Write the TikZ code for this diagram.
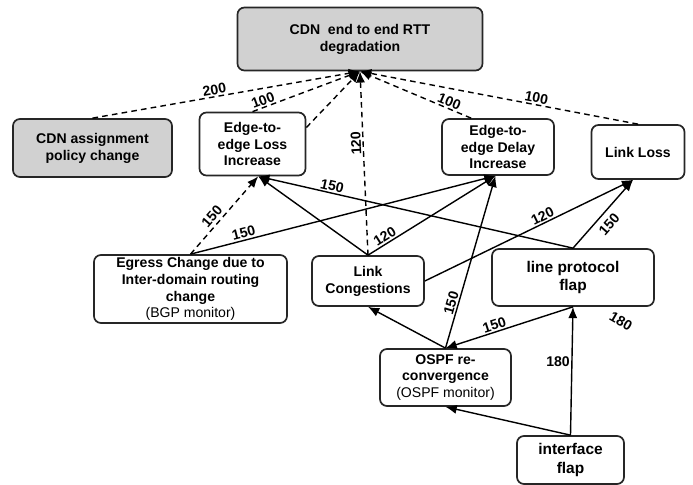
\documentclass[tikz,border=0pt]{standalone}
\usepackage{fontspec}
\setmainfont{Liberation Sans}
\usetikzlibrary{arrows.meta}

\begin{document}
\begin{tikzpicture}[x=0.025cm,y=-0.025cm,
	box/.style={draw=black!85,line width=1.2pt,rounded corners=5pt,align=center,inner sep=1pt,
		font=\fontsize{10}{12}\selectfont\bfseries},
	grey/.style={box,fill=black!18},
	cause/.style={-{Latex[length=8pt,width=6.5pt]},line width=1pt},
	maybe/.style={cause,dash pattern=on 4pt off 3pt},
	w/.style={font=\fontsize{10}{12}\selectfont\bfseries,sloped,above,inner sep=1pt}]
\useasboundingbox (0,0) rectangle (693,485);

\node [grey,minimum width=6.125cm,minimum height=1.575cm] (top) at (360,39) {CDN~~end to end RTT\\degradation};
\node [grey,minimum width=3.975cm,minimum height=1.45cm] (cdnpol) at (92.5,148) {CDN assignment\\policy change};
\node [box,minimum width=2.65cm,minimum height=1.575cm] (loss) at (252.5,144) {Edge-to-\\edge Loss\\Increase};
\node [box,minimum width=2.8cm,minimum height=1.4cm] (delay) at (498,147) {Edge-to-\\edge Delay\\Increase};
\node [box,minimum width=2.325cm,minimum height=1.35cm] (linkloss) at (638,152) {Link Loss};
\node [box,minimum width=4.825cm,minimum height=1.7cm] (egress) at (190.5,289) {Egress Change due to\\Inter-domain routing\\change\\{\mdseries (BGP monitor)}};
\node [box,minimum width=2.8cm,minimum height=1.25cm] (congest) at (368,281) {Link\\Congestions};
\node [box,minimum width=4.05cm,minimum height=1.425cm,font=\fontsize{11}{13}\selectfont\bfseries] (lpf) at (573,277.5) {line protocol\\flap};
\node [box,minimum width=3.275cm,minimum height=1.425cm] (ospf) at (445.5,377.5) {OSPF re-\\convergence\\{\mdseries (OSPF monitor)}};
\node [box,minimum width=2.675cm,minimum height=1.2cm,font=\fontsize{11}{13}\selectfont\bfseries] (iflap) at (570.5,460) {interface\\flap};

\draw [maybe] (cdnpol.north) -- node[w,pos=.46] {200} (top.south);
\draw [maybe] (loss.north) -- node[w,pos=.12] {100} (top.south);
\draw [maybe] (loss.17) -- (top.south);
\draw [maybe] (congest.north) -- node[w,allow upside down,pos=.61] {120} (top.south);
\draw [maybe] (delay.133) -- node[w,pos=.22] {100} (top.south);
\draw [maybe] (linkloss.north) -- node[w,pos=.37] {100} (top.south);

\draw [maybe] (egress.north) -- node[w,pos=.41,inner sep=2pt] {150} (loss.-80);
\draw [cause] (egress.north) -- node[w,pos=.18] {150} (delay.-95);
\draw [cause] (congest.north) -- (loss.-80);
\draw [cause] (congest.north) -- node[w,pos=.16] {120} (delay.-95);
\draw [cause] (congest.east) -- node[w,pos=.58] {120} (linkloss.-100);
\draw [cause] (lpf.north) -- node[w,pos=.77] {150} (loss.-80);
\draw [cause] (lpf.north) -- node[w,below,pos=.46,inner sep=4pt] {150} (linkloss.-100);
\draw [cause] (ospf.north) -- node[w,pos=.25] {150} (delay.-95);
\draw [cause] (ospf.north) -- (congest.south);
\draw [cause] (lpf.south) -- node[w,pos=.6] {150} (ospf.north);
\draw [cause] (iflap.north) -- node[w,sloped=false,left,pos=.57] {180} (lpf.south);
\draw [cause] (iflap.north) -- (ospf.south);
\node [font=\fontsize{10}{12}\selectfont\bfseries,rotate=-30] (t180) at (621,321) {180};
\end{tikzpicture}
\end{document}
